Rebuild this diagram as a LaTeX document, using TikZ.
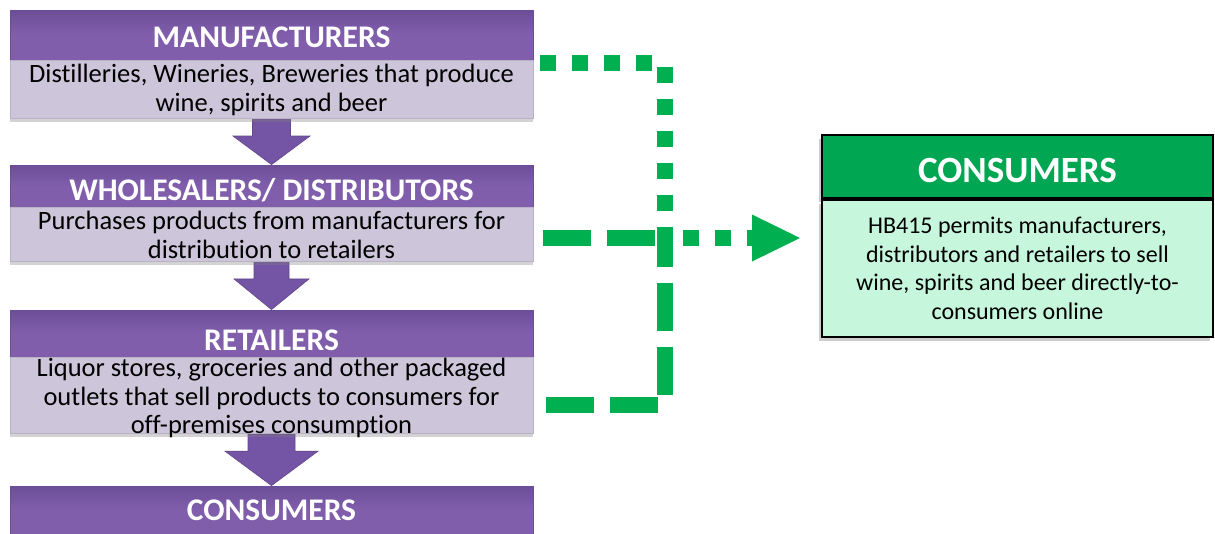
\documentclass[tikz,border=0pt]{standalone}
\usepackage{fontspec}
\setmainfont{Carlito}[Ligatures=NoCommon]
\usepackage{tikz}
\usetikzlibrary{calc, arrows.meta, shadows, backgrounds}

\definecolor{hdrpurple}{RGB}{128,94,172}
\definecolor{hdrpurpletop}{RGB}{108,78,152}
\definecolor{bodylilac}{RGB}{205,198,218}
\definecolor{arrowpurple}{RGB}{116,84,164}
\definecolor{linegreen}{RGB}{0,176,80}
\definecolor{hdrgreen}{RGB}{0,166,81}
\definecolor{bodymint}{RGB}{198,247,220}

\tikzset{
    headbar/.style={rectangle, top color=hdrpurpletop, bottom color=hdrpurple,
        middle color=hdrpurple, draw=hdrpurpletop, line width=0.8pt,
        text=white, font=\fontsize{31.5}{34}\selectfont\bfseries,
        minimum width=523pt, inner sep=0pt, text depth=0pt},
    bodybar/.style={rectangle, fill=bodylilac, draw=bodylilac!90!black,
        line width=0.8pt, font=\fontsize{26.5}{28.5}\selectfont, align=center,
        minimum width=523pt, inner xsep=0pt, anchor=north,
        drop shadow={shadow xshift=0pt, shadow yshift=-3pt, opacity=0.35}},
    greenhead/.style={rectangle, fill=hdrgreen, draw=black, line width=2pt,
        text=white, font=\fontsize{37}{40}\selectfont\bfseries,
        minimum width=391pt, minimum height=63pt, inner sep=0pt,
        text depth=0pt, text height=32pt,
        drop shadow={shadow xshift=-3pt, shadow yshift=-4pt, opacity=0.4}},
    greenbody/.style={rectangle, fill=bodymint, draw=black, line width=2pt,
        font=\fontsize{24}{28.5}\selectfont, align=center,
        minimum width=391pt, minimum height=137pt, inner sep=0pt, anchor=north,
        drop shadow={shadow xshift=-3pt, shadow yshift=-4pt, opacity=0.4}},
    dotline/.style={linegreen, line width=16pt, dash pattern=on 16pt off 16pt},
    dashline/.style={linegreen, line width=16pt, dash pattern=on 48pt off 16pt}
}

% block arrow between two boxes: from, to, stem half width, head half width, stem length
\newcommand{\flowarrow}[5]{%
    \fill[arrowpurple, draw=arrowpurple!85!black, line width=0.6pt]
        ($(#1.south)+(-#3,0)$) -- ($(#1.south)+(-#3,#5)$)
        -- ($(#1.south)+(-#4,#5)$) -- (#2.north)
        -- ($(#1.south)+(#4,#5)$) -- ($(#1.south)+(#3,#5)$)
        -- ($(#1.south)+(#3,0)$) -- cycle;
}

\begin{document}
\begin{tikzpicture}[x=1pt, y=-1pt]

    \useasboundingbox (0,0) rectangle (1215,533);

    \node[headbar, minimum height=50pt, text height=24pt] (manuf) at (271.5,35) {MANUFACTURERS};
    \node[bodybar, minimum height=51pt] (manufbody) at (manuf.south)
        {Distilleries, Wineries, Breweries that produce\\wine, spirits and beer};

    \node[headbar, minimum height=42pt, text height=28pt] (whole) at (271.5,186) {WHOLESALERS/ DISTRIBUTORS};
    \node[bodybar, minimum height=51pt] (wholebody) at (whole.south)
        {Purchases products from manufacturers for\\distribution to retailers};

    \node[headbar, minimum height=47pt, text height=34pt] (retail) at (271.5,333.5) {RETAILERS};
    \node[bodybar, minimum height=76pt, inner ysep=0pt, text depth=0pt] (retbody) at (retail.south)
        {Liquor stores, groceries and other packaged\\outlets that sell products to consumers for\\off-premises consumption};

    \node[headbar, minimum height=48pt, text height=20pt] (consumer) at (271.5,510) {CONSUMERS};

    \begin{scope}[on background layer]
        \flowarrow{manufbody}{whole}{19}{38.5}{17}
        \flowarrow{wholebody}{retail}{17.5}{37.5}{17}
        \flowarrow{retbody}{consumer}{23.5}{46.5}{17}
    \end{scope}

    \node[greenhead] (cons) at (1017.5,166.5) {CONSUMERS};
    \node[greenbody] (consbody) at (cons.south)
        {HB415 permits manufacturers,\\distributors and retailers to sell\\wine, spirits and beer directly-to-\\consumers online};

    \coordinate (hub) at (665,238);

    \draw[dotline] ($(manufbody.north east)+(7,3)$) -| (hub);
    \draw[dashline] ($(retbody.east)+(13,9)$) -| (hub);
    \draw[dashline] ([xshift=10pt]hub -| wholebody.east) -- (hub);
    \draw[dotline, dash phase=14pt, shorten >=21pt,
        -{Triangle[length=48pt, width=47pt, line width=0pt]}] (hub) -- (hub -| consbody.west);

\end{tikzpicture}
\end{document}
